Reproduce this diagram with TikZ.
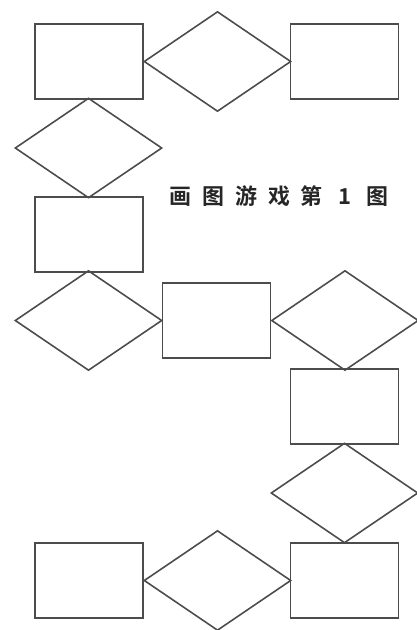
\documentclass[tikz,border=0pt]{standalone}
\usepackage{fontspec}
\usepackage{tikz}
\usetikzlibrary{shapes}
\newfontfamily\cjk{Noto Sans CJK SC Bold}
\tikzstyle{box}=[rectangle,draw=black!70,line width=1pt,minimum width=2.16cm,minimum height=1.5cm,inner sep=0pt]
\tikzstyle{rhombus}=[diamond,draw=black!70,line width=0.9pt,minimum width=2.94cm,minimum height=2cm,inner sep=0pt]
\tikzstyle{caption}=[font=\cjk\fontsize{12.5}{14}\selectfont,text=black!85,inner sep=0pt]

\begin{document}
\begin{tikzpicture}
        \useasboundingbox (0,0) rectangle (8.34,-12.6);

        \node at (1.78,-1.23)  [box]     (b1) {};
        \node at (4.35,-1.23)  [rhombus] (r1) {};
        \node at (6.89,-1.23)  [box]     (b2) {};
        \node at (1.77,-2.96)  [rhombus] (r2) {};
        \node at (1.78,-4.69)  [box]     (b3) {};
        \node at (1.77,-6.41)  [rhombus] (r3) {};
        \node at (4.33,-6.41)  [box]     (b4) {};
        \node at (6.90,-6.41)  [rhombus] (r4) {};
        \node at (6.89,-8.13)  [box]     (b5) {};
        \node at (6.89,-9.86)  [rhombus] (r5) {};
        \node at (6.89,-11.61) [box]     (b6) {};
        \node at (4.35,-11.61) [rhombus] (r6) {};
        \node at (1.78,-11.61) [box]     (b7) {};

        \node at (5.58,-3.92) [caption] (title) {画\enspace 图\enspace 游\enspace 戏\enspace 第\enspace\makebox[1em]{1}\enspace 图};
      \end{tikzpicture}
\end{document}
